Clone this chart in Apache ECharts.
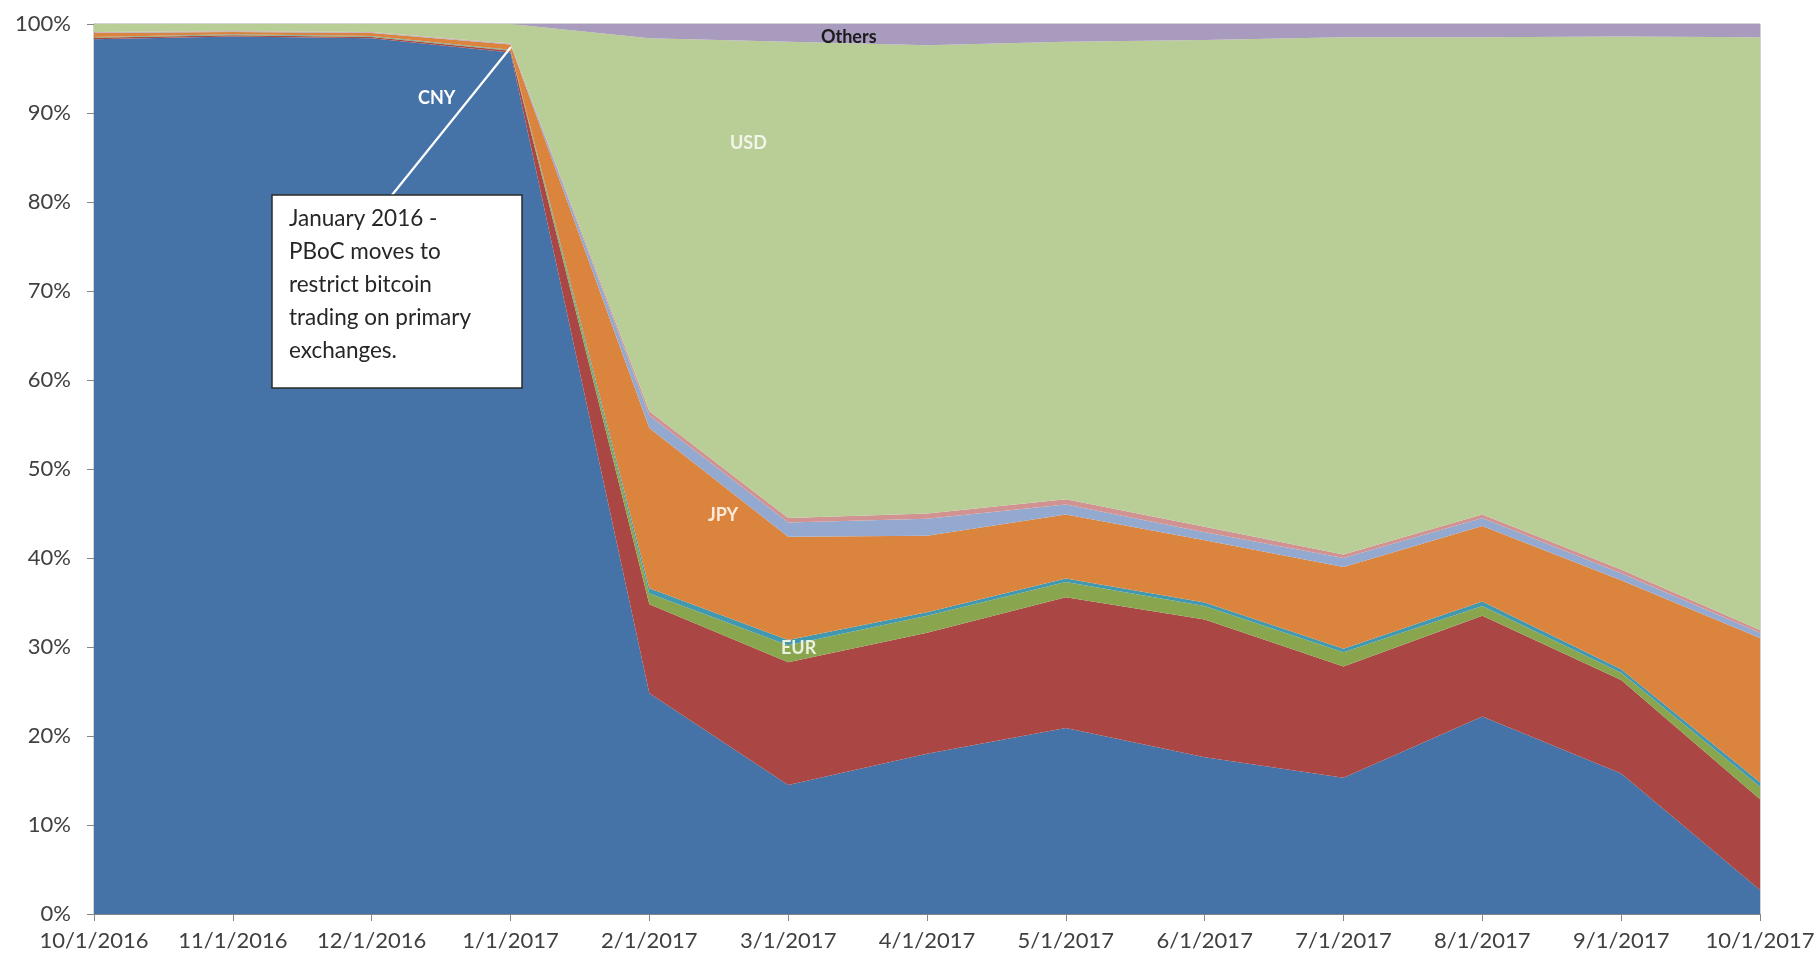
<!DOCTYPE html>
<html>
<head>
<meta charset="utf-8">
<script src="https://cdn.jsdelivr.net/npm/echarts@6/dist/echarts.min.js"></script>
<style>
html,body{margin:0;padding:0;background:#fff;}
#chart{width:1819px;height:958px;}
</style>
</head>
<body>
<div id="chart"></div>
<script>
const dates = ['10/1/2016','11/1/2016','12/1/2016','1/1/2017','2/1/2017','3/1/2017','4/1/2017','5/1/2017','6/1/2017','7/1/2017','8/1/2017','9/1/2017','10/1/2017'];
const yTicks = [0,10,20,30,40,50,60,70,80,90,100];

const cny    = [98.3, 98.6, 98.4, 96.8, 24.8, 14.5, 18.0, 20.9, 17.6, 15.3, 22.2, 15.8, 2.7];
const krw    = [0.15, 0.15, 0.15, 0.2, 10.0, 13.8, 13.6, 14.7, 15.5, 12.5, 11.3, 10.5, 10.2];
const eur    = [0.05, 0.05, 0.05, 0.05, 1.2, 1.9, 1.9, 1.7, 1.5, 1.6, 1.1, 0.8, 1.4];
const gbp    = [0.05, 0.05, 0.05, 0.05, 0.6, 0.6, 0.4, 0.4, 0.4, 0.4, 0.5, 0.4, 0.5];
const jpy    = [0.45, 0.25, 0.35, 0.6, 18.0, 11.6, 8.6, 7.2, 7.0, 9.2, 8.5, 10.0, 16.2];
const pln    = [0.05, 0.05, 0.05, 0.05, 1.4, 1.6, 1.9, 1.1, 0.9, 1.0, 0.9, 0.8, 0.6];
const rub    = [0.05, 0.05, 0.05, 0.05, 0.5, 0.5, 0.6, 0.6, 0.6, 0.4, 0.4, 0.4, 0.3];
const usd    = [0.9, 0.8, 0.9, 2.2, 41.9, 53.5, 52.6, 51.4, 54.7, 58.1, 53.6, 59.9, 66.6];
const others = [0, 0, 0, 0, 1.6, 2.0, 2.4, 2.0, 1.8, 1.5, 1.5, 1.4, 1.5];

const seriesNames = ['CNY','KRW','EUR','GBP','JPY','PLN','RUB','USD','Others'];
const seriesData  = [cny, krw, eur, gbp, jpy, pln, rub, usd, others];
const seriesColors = ['#4572A7','#AA4643','#89A54E','#4198AF','#DB843D','#93A9CF','#D19392','#B9CD96','#A99BBD'];

const chart = echarts.init(document.getElementById('chart'), null, {renderer:'canvas'});

const FONT = 'Lato, "Open Sans", sans-serif';
const series = seriesNames.map((n, i) => ({
  name: n,
  type: 'line',
  stack: 'total',
  data: seriesData[i],
  symbol: 'none',
  showSymbol: false,
  lineStyle: {width: 0},
  areaStyle: {color: seriesColors[i], opacity: 1},
  itemStyle: {color: seriesColors[i]},
  emphasis: {disabled: true}
}));

const annot = ['January 2016 -','PBoC moves to','restrict bitcoin','trading on primary','exchanges.'];

chart.setOption({
  animation: false,
  backgroundColor: '#fff',
  grid: {left: 94, right: 59, top: 24, bottom: 44, show: true, borderColor: '#a6a6a6', borderWidth: 1, backgroundColor: 'transparent'},
  xAxis: {
    type: 'category',
    data: dates,
    boundaryGap: false,
    axisLine: {lineStyle: {color: '#868686', width: 1}},
    axisTick: {show: true, alignWithLabel: true, length: 7, lineStyle: {color: '#868686'}},
    axisLabel: {color: '#404040', fontFamily: FONT, fontSize: 22, margin: 16, interval: 0},
    splitLine: {show: false}
  },
  yAxis: {
    type: 'value',
    min: 0, max: 100, interval: 10,
    axisLine: {show: true, lineStyle: {color: '#868686', width: 1}},
    axisTick: {show: true, length: 7, lineStyle: {color: '#868686'}},
    axisLabel: {color: '#404040', fontFamily: FONT, fontSize: 22, margin: 23,
      formatter: v => (yTicks.indexOf(v) >= 0 ? v + '%' : '')},
    splitLine: {show: false}
  },
  series: series,
  graphic: [
    {type: 'line', z: 100, shape: {x1: 392, y1: 195, x2: 511, y2: 47}, style: {stroke: '#ffffff', lineWidth: 2.2}},
    {type: 'rect', z: 100, shape: {x: 272, y: 195, width: 250, height: 193}, style: {fill: '#ffffff', stroke: '#2b2b2b', lineWidth: 1.5}},
    ...annot.map((t, i) => ({type: 'text', z: 101, left: 289, top: 207 + i * 33,
      style: {text: t, fill: '#262626', font: '22.5px ' + FONT}})),
    {type: 'text', z: 101, left: 418, top: 89, style: {text: 'CNY', fill: '#ffffff', font: 'bold 18px ' + FONT}},
    {type: 'text', z: 101, left: 730, top: 134, style: {text: 'USD', fill: '#f2f6ea', font: 'bold 18px ' + FONT}},
    {type: 'text', z: 101, left: 708, top: 506, style: {text: 'JPY', fill: '#fdeada', font: 'bold 18px ' + FONT}},
    {type: 'text', z: 101, left: 781, top: 639, style: {text: 'EUR', fill: '#ebf1de', font: 'bold 18px ' + FONT}},
    {type: 'text', z: 101, left: 821, top: 28, style: {text: 'Others', fill: '#1a1a1a', font: 'bold 18px ' + FONT}}
  ]
});
</script>
</body>
</html>
